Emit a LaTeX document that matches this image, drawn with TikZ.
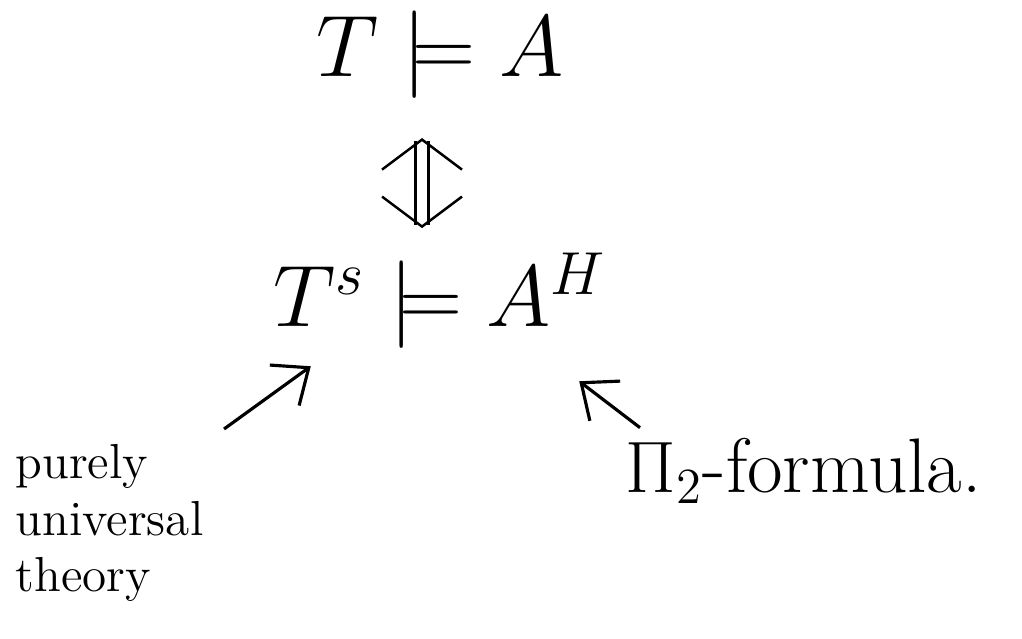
\documentclass[tikz,border=0pt]{standalone}
\usetikzlibrary{arrows.meta}
\tikzset{
  big/.style={font=\fontsize{24}{28}\selectfont, inner sep=2pt},
  lbl/.style={font=\fontsize{14}{16}\selectfont, inner sep=0pt},
  arr/.style={line width=0.9pt, -{Straight Barb[length=3mm,width=5mm]}},
  dbl/.style={double, double distance=3pt, line width=0.7pt, {Straight Barb[length=3mm,width=8mm]}-{Straight Barb[length=3mm,width=8mm]}}
}
\begin{document}
\begin{tikzpicture}
\useasboundingbox (0,0) rectangle (10.22,6.39);
\node[big] (top) at (4.40,5.84) {$T\models A$};
\node[big] (bot) at (4.40,3.38) {$T^{s}\models A^{H}$};
\node[lbl, align=left, anchor=north west] (pu) at (0.15,1.95) {purely\\universal\\theory};
\node[font=\fontsize{22}{26}\selectfont, anchor=west, inner sep=0pt] (pi) at (6.25,1.68) {$\Pi_2$-formula.};
\coordinate (dtop) at ([xshift=-0.18cm,yshift=-9pt]top.south);
\draw[dbl] (dtop) -- ([yshift=5pt]dtop |- bot.north);
\draw[arr] ([xshift=0.2cm,yshift=0.15cm]pu.north east) -- ([xshift=0.45cm,yshift=-0.1cm]bot.south west);
\draw[arr] ([xshift=0.15cm,yshift=0.1cm]pi.north west) -- ([xshift=-0.35cm,yshift=-0.25cm]bot.south east);
\end{tikzpicture}
\end{document}
